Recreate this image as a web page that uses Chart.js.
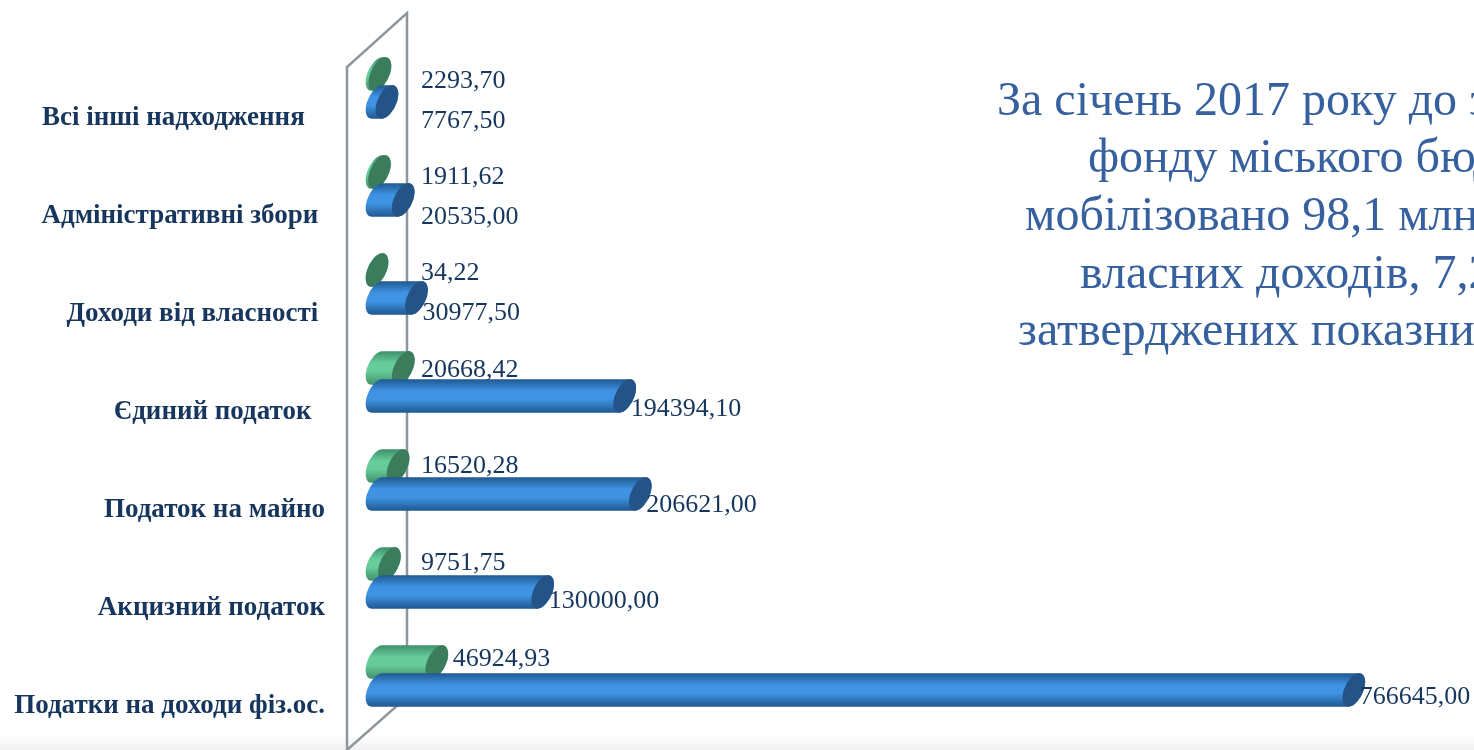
<!DOCTYPE html>
<html lang="uk">
<head>
<meta charset="utf-8">
<script src="https://cdn.jsdelivr.net/npm/chart.js@4.4.1/dist/chart.umd.min.js"></script>
<style>
  html, body { margin: 0; padding: 0; }
  body {
    width: 1474px; height: 750px; overflow: hidden; position: relative;
    background: linear-gradient(to bottom, #ffffff 0px, #ffffff 734px, #f1f1f1 750px);
  }
  #wrap { position: absolute; left: 0; top: 0; width: 1474px; height: 750px; }
  .note {
    position: absolute; white-space: nowrap;
    font-family: "Liberation Serif", "Times New Roman", serif;
    font-size: 48px; line-height: 48px; color: #36609e;
  }
</style>
</head>
<body>
<div id="wrap"><canvas id="barChart"></canvas></div>

<div class="note" style="left:997px; top:75px;">За січень 2017 року до загального</div>
<div class="note" style="left:1088px; top:132px;">фонду міського бюджету</div>
<div class="note" style="left:1025px; top:190px;">мобілізовано 98,1 млн грн</div>
<div class="note" style="left:1080px; top:248px;">власних доходів, 7,2% від</div>
<div class="note" style="left:1018px; top:305px;">затверджених показників</div>

<script>
// категорії (зверху вниз) та значення
const categories = [
  'Всі інші надходження   ',
  'Адміністративні збори ',
  'Доходи від власності ',
  'Єдиний податок  ',
  'Податок на майно',
  'Акцизний податок',
  'Податки на доходи фіз.ос.'
];
const factValues = [2293.70, 1911.62, 34.22, 20668.42, 16520.28, 9751.75, 46924.93];
const planValues = [7767.50, 20535.00, 30977.50, 194394.10, 206621.00, 130000.00, 766645.00];

const serif = '"Liberation Serif", "Times New Roman", serif';

function fmt(v) {
  return v.toFixed(2).replace('.', ',');
}

// циліндр, що лежить горизонтально (псевдо 3D)
function drawCylinder(ctx, x0, x1, cy, h, edge, mid, cap) {
  const rx = 10, ry = h / 2, s = 0.32;
  const len = Math.max(x1 - x0, 0);
  ctx.save();
  ctx.translate(x0, cy);
  ctx.transform(1, 0, -s, 1, 0, 0);
  const g = ctx.createLinearGradient(0, -ry, 0, ry);
  g.addColorStop(0, edge);
  g.addColorStop(0.35, mid);
  g.addColorStop(0.6, mid);
  g.addColorStop(1, edge);
  ctx.beginPath();
  ctx.moveTo(0, -ry);
  ctx.lineTo(len, -ry);
  ctx.ellipse(len, 0, rx, ry, 0, -Math.PI / 2, Math.PI / 2);
  ctx.lineTo(0, ry);
  ctx.ellipse(0, 0, rx, ry, 0, Math.PI / 2, Math.PI * 1.5);
  ctx.closePath();
  ctx.fillStyle = g;
  ctx.fill();
  ctx.beginPath();
  ctx.ellipse(len, 0, rx, ry, 0, 0, Math.PI * 2);
  ctx.fillStyle = cap;
  ctx.fill();
  ctx.restore();
}

const styles = [
  { edge: '#3f8f69', mid: '#66cc9a', cap: '#3b7c5c' }, // факт
  { edge: '#1f5890', mid: '#3e93e2', cap: '#245487' }  // план
];

const frame3d = {
  id: 'frame3d',
  beforeDatasetsDraw(chart) {
    const { ctx, chartArea } = chart;
    const fx = chartArea.left - 30, bx = chartArea.left + 30;
    ctx.save();
    ctx.strokeStyle = '#8f959d';
    ctx.lineWidth = 2.5;
    ctx.beginPath();
    ctx.moveTo(fx, chartArea.bottom + 30);
    ctx.lineTo(fx, chartArea.top + 28);
    ctx.lineTo(bx, chartArea.top - 26);
    ctx.lineTo(bx, chartArea.bottom - 28);
    ctx.lineTo(fx, chartArea.bottom + 25);
    ctx.stroke();
    ctx.restore();
  }
};

const cylinders = {
  id: 'cylinders',
  afterDatasetsDraw(chart) {
    const { ctx, chartArea } = chart;
    [0, 1].forEach(di => {
      const st = styles[di];
      chart.getDatasetMeta(di).data.forEach(el => {
        const p = el.getProps(['x', 'y', 'base', 'height'], true);
        drawCylinder(ctx, p.base, p.x, p.y, p.height * 1.2, st.edge, st.mid, st.cap);
      });
    });
    // підписи значень (трохи "перспективи" по вертикалі)
    ctx.save();
    ctx.font = '26px ' + serif;
    ctx.fillStyle = '#17365d';
    ctx.textAlign = 'left';
    ctx.textBaseline = 'middle';
    [0, 1].forEach(di => {
      const values = chart.data.datasets[di].data;
      chart.getDatasetMeta(di).data.forEach((el, i) => {
        const p = el.getProps(['x', 'y', 'base'], true);
        const minX = p.base + 44;
        const k = 1 - p.y / chartArea.bottom;
        if (di === 0) {
          ctx.fillText(fmt(values[i]), Math.max(p.x + 16, minX), p.y - 4 + 12 * k);
        } else {
          ctx.fillText(fmt(values[i]), Math.max(p.x + 6, minX), p.y + 7 + 14 * k);
        }
      });
    });
    ctx.restore();
  }
};

const ctxBar = document.getElementById('barChart').getContext('2d');
const barChart = new Chart(ctxBar, {
  type: 'bar',
  data: {
    labels: categories,
    datasets: [
      {
        label: 'Факт',
        data: factValues,
        backgroundColor: 'rgba(0,0,0,0)',
        categoryPercentage: 0.571,
        barPercentage: 1.0
      },
      {
        label: 'План',
        data: planValues,
        backgroundColor: 'rgba(0,0,0,0)',
        categoryPercentage: 0.571,
        barPercentage: 1.0
      }
    ]
  },
  options: {
    indexAxis: 'y',
    responsive: true,
    maintainAspectRatio: false,
    animation: false,
    layout: {
      padding: { top: 39, bottom: 25, left: 0, right: 0 }
    },
    plugins: {
      legend: { display: false },
      tooltip: { enabled: false }
    },
    scales: {
      x: {
        display: false,
        min: 0,
        max: 861000
      },
      y: {
        grid: { display: false, drawTicks: false },
        border: { display: false },
        ticks: {
          color: '#17365d',
          font: { family: serif, size: 27, weight: 'bold' },
          padding: 52,
          labelOffset: 30
        },
        afterFit(scale) {
          scale.width = 377;
          scale.paddingTop = 0;
          scale.paddingBottom = 0;
        }
      }
    }
  },
  plugins: [frame3d, cylinders]
});
</script>
</body>
</html>
